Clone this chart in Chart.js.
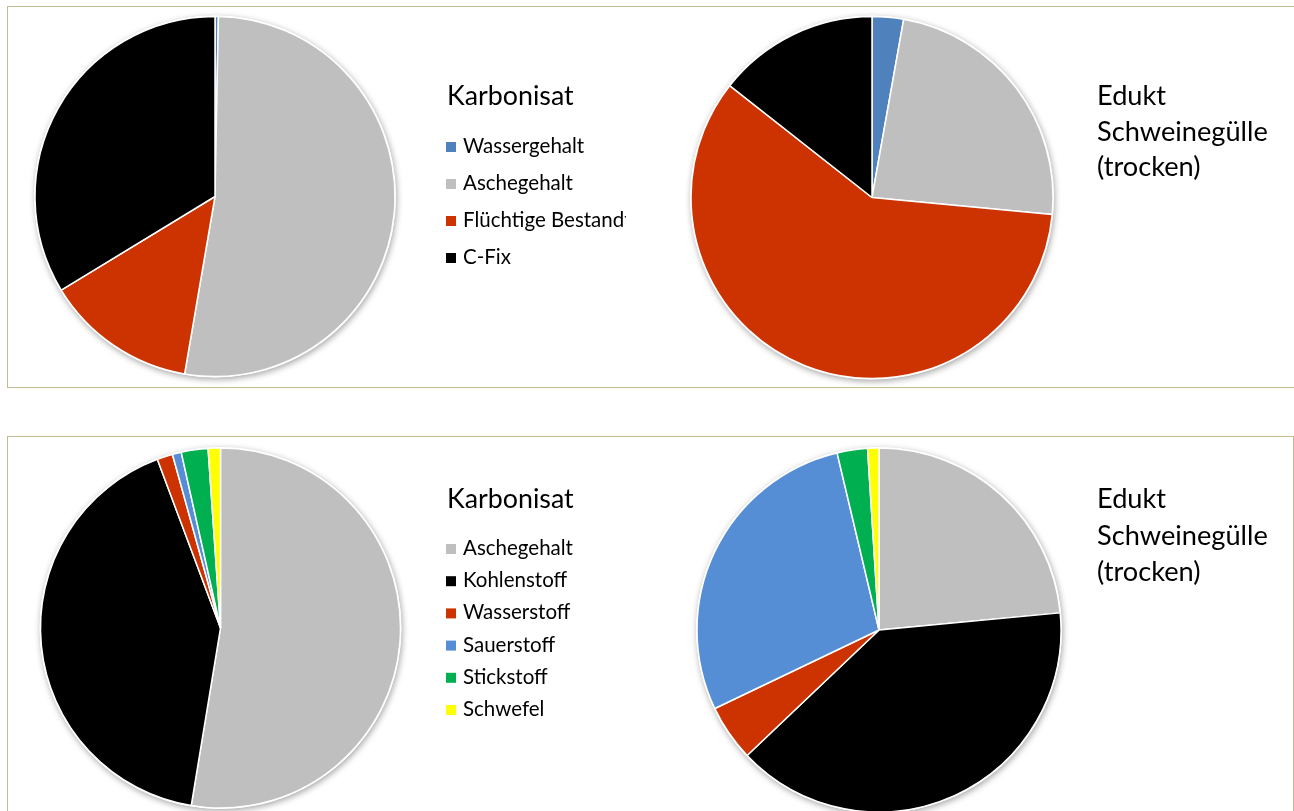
<!doctype html>
<html>
<head>
  <meta charset="utf-8" />
  <title>Karbonisat / Edukt Schweinegülle</title>
  <script src="https://cdn.jsdelivr.net/npm/chart.js@4"></script>
  <style>
    html, body { margin: 0; padding: 0; background: #fff; overflow: hidden; }
    body { width: 1294px; height: 811px; position: relative; }
    .panel { position: absolute; border: 1px solid #c4bc96; box-sizing: border-box; }
    canvas { position: absolute; }
  </style>
</head>
<body>
  <div class="panel" style="left:7px; top:6px; width:1300px; height:382px;"></div>
  <div class="panel" style="left:7px; top:436px; width:1287px; height:400px;"></div>

  <canvas id="pieTL" style="left:8px; top:7px;" width="640" height="379"></canvas>
  <canvas id="pieTR" style="left:650px; top:7px;" width="644" height="379"></canvas>
  <canvas id="pieBL" style="left:8px; top:437px;" width="640" height="374"></canvas>
  <canvas id="pieBR" style="left:650px; top:437px;" width="642" height="374"></canvas>

<script>
  // Kurzanalyse (Anteile in %)
  var labelsKurz = ['Wassergehalt', 'Aschegehalt', 'Flüchtige Bestandteile', 'C-Fix'];
  var colorsKurz = ['#4f81bd', '#bfbfbf', '#cc3300', '#000000'];
  var karbonisatKurz = [0.3, 52.4, 13.6, 33.7];
  var eduktKurz = [2.8, 23.7, 59.1, 14.4];

  // Elementaranalyse (Anteile in %)
  var labelsElem = ['Aschegehalt', 'Kohlenstoff', 'Wasserstoff', 'Sauerstoff', 'Stickstoff', 'Schwefel'];
  var colorsElem = ['#bfbfbf', '#000000', '#cc3300', '#558ed5', '#00b050', '#ffff00'];
  var karbonisatElem = [52.6, 41.7, 1.4, 0.8, 2.4, 1.1];
  var eduktElem = [23.5, 39.4, 5.0, 28.4, 2.7, 1.0];

  var FONT = 'Lato, "Open Sans", sans-serif';

  // weicher Schatten unter dem Kreis
  var pieShadow = {
    id: 'pieShadow',
    beforeDatasetsDraw: function (chart) {
      var arc = chart.getDatasetMeta(0).data[0];
      if (!arc) return;
      var ctx = chart.ctx;
      ctx.save();
      ctx.shadowColor = 'rgba(0,0,0,0.35)';
      ctx.shadowBlur = 6;
      ctx.shadowOffsetX = 1;
      ctx.shadowOffsetY = 2;
      ctx.fillStyle = '#ffffff';
      ctx.beginPath();
      ctx.arc(arc.x, arc.y, arc.outerRadius + 1, 0, Math.PI * 2);
      ctx.fill();
      ctx.restore();
    }
  };

  // Titel + Legende rechts neben dem Kreis
  var sideText = {
    id: 'sideText',
    afterDraw: function (chart, args, opts) {
      var ctx = chart.ctx;
      ctx.save();
      if (opts.clipRight) {
        ctx.beginPath();
        ctx.rect(0, 0, opts.clipRight, chart.height);
        ctx.clip();
      }
      ctx.fillStyle = '#000';
      ctx.textBaseline = 'alphabetic';
      ctx.font = opts.titleSize + 'px ' + FONT;
      opts.title.forEach(function (line, i) {
        ctx.fillText(line, opts.x, opts.titleY + i * opts.titleGap);
      });
      if (opts.legend) {
        var ds = chart.data.datasets[0];
        ctx.font = opts.itemSize + 'px ' + FONT;
        chart.data.labels.forEach(function (lab, i) {
          var base = opts.itemY + i * opts.itemGap;
          ctx.fillStyle = ds.backgroundColor[i];
          ctx.fillRect(opts.x - 1, base - 11, 10, 10);
          ctx.fillStyle = '#000';
          ctx.fillText(lab, opts.x + 16, base);
        });
      }
      ctx.restore();
    }
  };

  // Innenabstand so, dass der Kreismittelpunkt bei (cx, cy) liegt
  function padFor(cx, cy, w, h) {
    var p = { left: 0, right: 0, top: 0, bottom: 0 };
    if (cx * 2 < w) p.right = w - cx * 2; else p.left = cx * 2 - w;
    if (cy * 2 < h) p.bottom = h - cy * 2; else p.top = cy * 2 - h;
    return p;
  }

  function makePie(id, labels, values, colors, center, radius, text) {
    var cv = document.getElementById(id);
    return new Chart(cv, {
      type: 'pie',
      data: {
        labels: labels,
        datasets: [{
          data: values,
          backgroundColor: colors,
          borderColor: '#ffffff',
          borderWidth: 1.5,
          radius: radius
        }]
      },
      options: {
        responsive: false,
        animation: false,
        layout: { padding: padFor(center[0], center[1], cv.width, cv.height) },
        plugins: {
          legend: { display: false },
          tooltip: { enabled: false },
          sideText: text
        }
      },
      plugins: [pieShadow, sideText]
    });
  }

  makePie('pieTL', labelsKurz, karbonisatKurz, colorsKurz, [207, 189.5], 180, {
    x: 439, title: ['Karbonisat'], titleY: 98, titleGap: 36, titleSize: 26.8,
    legend: true, itemY: 146, itemGap: 37, itemSize: 20.5, clipRight: 618
  });
  makePie('pieTR', labelsKurz, eduktKurz, colorsKurz, [222, 190.5], 181, {
    x: 447, title: ['Edukt', 'Schweinegülle', '(trocken)'], titleY: 98, titleGap: 35.5, titleSize: 27.2,
    legend: false
  });
  makePie('pieBL', labelsElem, karbonisatElem, colorsElem, [212.5, 191], 180, {
    x: 439, title: ['Karbonisat'], titleY: 71, titleGap: 36, titleSize: 26.8,
    legend: true, itemY: 118, itemGap: 32.2, itemSize: 20.5
  });
  makePie('pieBR', labelsElem, eduktElem, colorsElem, [229, 193], 182, {
    x: 447, title: ['Edukt', 'Schweinegülle', '(trocken)'], titleY: 71, titleGap: 36.5, titleSize: 27.2,
    legend: false
  });
</script>
</body>
</html>
